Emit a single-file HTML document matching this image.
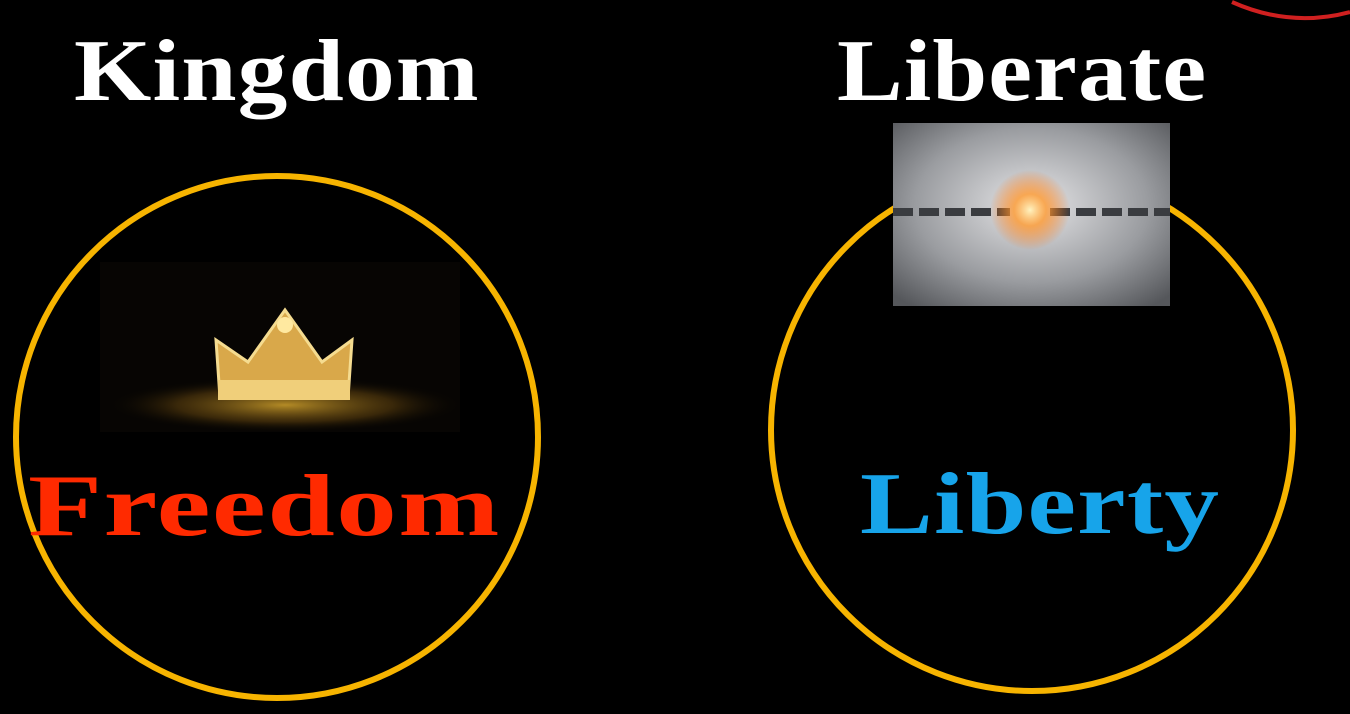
<!DOCTYPE html>
<html>
<head>
<meta charset="utf-8">
<style>
  html,body{margin:0;padding:0;background:#000;}
  #slide{position:relative;width:1350px;height:714px;background:#000;overflow:hidden;font-family:"Liberation Serif",serif;}
  .t{position:absolute;font-weight:bold;white-space:nowrap;line-height:1;transform-origin:0 0;}
</style>
</head>
<body>
<div id="slide">
  <svg width="1350" height="714" style="position:absolute;left:0;top:0">
    <defs>
      <radialGradient id="glow" cx="50%" cy="50%" r="50%">
        <stop offset="0%" stop-color="#c79a2a" stop-opacity="0.9"/>
        <stop offset="60%" stop-color="#6b4a10" stop-opacity="0.5"/>
        <stop offset="100%" stop-color="#000" stop-opacity="0"/>
      </radialGradient>
      <radialGradient id="chainbg" cx="50%" cy="45%" r="70%">
        <stop offset="0%" stop-color="#e6e6e8"/>
        <stop offset="60%" stop-color="#9a9ca0"/>
        <stop offset="100%" stop-color="#55575b"/>
      </radialGradient>
      <radialGradient id="spark" cx="50%" cy="50%" r="50%">
        <stop offset="0%" stop-color="#fff3c0"/>
        <stop offset="40%" stop-color="#ff9a30" stop-opacity="0.8"/>
        <stop offset="100%" stop-color="#ff6a00" stop-opacity="0"/>
      </radialGradient>
    </defs>
    <path d="M1232 2 Q1290 28 1350 12" fill="none" stroke="#d02020" stroke-width="4"/>
    <circle cx="277" cy="437" r="261" fill="none" stroke="#f7b400" stroke-width="6"/>
    <circle cx="1032" cy="430" r="261" fill="none" stroke="#f7b400" stroke-width="6"/>
    <g>
      <rect x="100" y="262" width="360" height="170" fill="#070503"/>
      <ellipse cx="285" cy="405" rx="180" ry="28" fill="url(#glow)"/>
      <path d="M220 398 L216 340 L248 362 L285 310 L322 362 L352 340 L348 398 Z" fill="#d9a84a" stroke="#f5dc90" stroke-width="3"/>
      <rect x="218" y="380" width="132" height="20" fill="#f0cf7a"/>
      <circle cx="285" cy="325" r="8" fill="#ffe9a0"/>
    </g>
    <g>
      <rect x="893" y="123" width="277" height="183" fill="url(#chainbg)"/>
      <line x1="893" y1="212" x2="1010" y2="212" stroke="#3a3c40" stroke-width="8" stroke-dasharray="20 6"/>
      <line x1="1050" y1="212" x2="1170" y2="212" stroke="#3a3c40" stroke-width="8" stroke-dasharray="20 6"/>
      <circle cx="1030" cy="210" r="40" fill="url(#spark)"/>
    </g>
  </svg>
  <div class="t" style="left:74px;top:28px;font-size:88px;color:#fff;letter-spacing:1px;transform:scaleX(1.13);">Kingdom</div>
  <div class="t" style="left:837px;top:28px;font-size:88px;color:#fff;letter-spacing:1px;transform:scaleX(1.12);">Liberate</div>
  <div class="t" style="left:28px;top:463px;font-size:88px;color:#ff2a00;letter-spacing:1px;transform:scaleX(1.38);">Freedom</div>
  <div class="t" style="left:860px;top:461px;font-size:88px;color:#17a4ea;letter-spacing:1px;transform:scaleX(1.24);">Liberty</div>
</div>
</body>
</html>
